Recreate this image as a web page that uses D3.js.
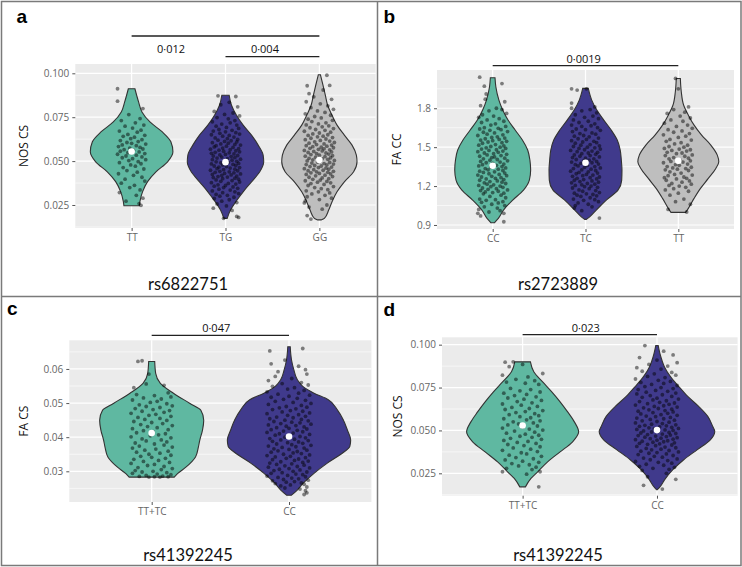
<!DOCTYPE html>
<html>
<head>
<meta charset="utf-8">
<style>
  body { margin: 0; background: #fff; }
  svg text { font-family: 'Open Sans', sans-serif; }
  .tick line { stroke: #555; }
  .tick text { fill: #666; font-size: 10px; }
  .domain { display: none; }
  .letter { font-family: 'Liberation Sans', Arial, sans-serif !important; font-weight: bold; font-size: 19px; }
  .snp { font-family: Lato, sans-serif !important; font-size: 16.5px; }
</style>
</head>
<body>
<svg id="chart"></svg>
<script src="https://d3js.org/d3.v7.min.js"></script>
<script>
// ---------- panel a : rs6822751, NOS CS ----------
const aCats = ["TT", "TG", "GG"];
const aTicks = [0.025, 0.05, 0.075, 0.1];
const aMedians = [0.0555, 0.0494, 0.0506];
const aSig = [{from: 0, to: 2, label: "0·012"}, {from: 1, to: 2, label: "0·004"}];
// violin outlines: [value, half width in category units]
const aShapeTT = [[.0912,.035],[.0837,.074],[.0780,.110],[.0723,.195],[.0666,.327],[.0610,.418],[.0553,.440],[.0496,.383],[.0439,.259],[.0383,.170],[.0326,.117],[.0269,.088],[.0246,.082]];
const aShapeTG = [[.0875,.039],[.0818,.064],[.0761,.117],[.0705,.188],[.0648,.277],[.0591,.348],[.0534,.401],[.0496,.407],[.0439,.365],[.0382,.277],[.0325,.188],[.0269,.110],[.0221,.053],[.0174,.018]];
const aShapeGG = [[.0992,.011],[.0931,.039],[.0875,.064],[.0818,.088],[.0761,.135],[.0705,.188],[.0648,.266],[.0591,.348],[.0534,.394],[.0496,.401],[.0439,.365],[.0382,.266],[.0325,.188],[.0269,.135],[.0221,.099],[.0174,.053],[.0165,.018]];
// jittered points: [jitter offset in category units, value]
const aPtsTT = [[-.15,.0912],[-.15,.0841],[.12,.0799],[-.03,.0765],[.09,.0742],[-.11,.0731],[.04,.0718],[.13,.0705],[-.07,.0699],[.01,.0688],[.10,.0676],[-.13,.0671],[.06,.0665],[-.04,.0652],[.14,.0647],[-.09,.0641],[.03,.0636],[-.01,.0628],[.11,.0622],[-.12,.0617],[.07,.0611],[-.05,.0606],[.00,.0601],[.15,.0597],[-.10,.0592],[.05,.0588],[-.14,.0583],[.09,.0578],[-.02,.0574],[.12,.0569],[-.08,.0565],[.02,.0561],[-.12,.0556],[.08,.0552],[-.04,.0548],[.14,.0543],[-.15,.0539],[.05,.0534],[-.06,.0529],[.11,.0524],[-.10,.0519],[.01,.0514],[.15,.0508],[-.03,.0503],[.07,.0497],[-.13,.0491],[.10,.0485],[-.01,.0478],[.04,.0471],[-.09,.0463],[.13,.0455],[-.05,.0446],[.06,.0437],[-.14,.0428],[.02,.0419],[.11,.0408],[-.07,.0397],[.14,.0386],[-.11,.0374],[.03,.0362],[-.02,.0349],[.09,.0336],[-.13,.0321],[.05,.0305],[.12,.0289],[-.06,.0272],[.08,.0258],[.10,.0248]];
const aPtsTG = [[-.08,.0872],[.11,.0868],[.04,.0835],[-.05,.0821],[.13,.0809],[-.12,.0783],[.08,.0774],[-.01,.0766],[.15,.0757],[-.09,.0748],[.03,.0741],[.10,.0731],[-.14,.0724],[.05,.0718],[-.04,.0711],[.12,.0705],[-.10,.0699],[.01,.0692],[.14,.0686],[-.07,.0680],[.07,.0675],[-.13,.0671],[.00,.0667],[.11,.0662],[-.06,.0658],[.15,.0654],[-.15,.0650],[.04,.0646],[-.03,.0642],[.09,.0637],[-.11,.0632],[.02,.0628],[.13,.0623],[-.08,.0619],[.06,.0616],[-.01,.0612],[.12,.0609],[-.14,.0605],[.03,.0602],[-.05,.0598],[.10,.0595],[.16,.0591],[-.10,.0588],[.01,.0585],[-.12,.0581],[.08,.0578],[-.03,.0574],[.14,.0571],[-.16,.0568],[.05,.0565],[-.07,.0562],[.11,.0559],[-.02,.0556],[.15,.0553],[-.11,.0550],[.04,.0547],[-.15,.0544],[.09,.0541],[.00,.0538],[-.06,.0535],[.13,.0532],[-.13,.0529],[.06,.0526],[-.04,.0523],[.10,.0520],[-.09,.0517],[.02,.0514],[.16,.0511],[-.14,.0508],[.07,.0505],[-.01,.0502],[.12,.0499],[-.10,.0496],[.03,.0493],[-.05,.0490],[.14,.0487],[-.15,.0484],[.08,.0481],[-.03,.0478],[.11,.0475],[-.12,.0472],[.01,.0469],[-.07,.0466],[.15,.0463],[.05,.0460],[-.09,.0457],[.10,.0454],[-.02,.0451],[-.16,.0448],[.13,.0445],[-.06,.0442],[.04,.0439],[-.11,.0436],[.09,.0433],[-.01,.0430],[.16,.0427],[-.14,.0424],[.06,.0421],[-.04,.0418],[.12,.0415],[-.08,.0412],[.02,.0409],[-.13,.0406],[.10,.0403],[-.03,.0400],[.14,.0397],[-.10,.0393],[.07,.0389],[-.05,.0385],[.15,.0381],[-.15,.0377],[.03,.0373],[.11,.0369],[-.08,.0365],[.00,.0361],[-.12,.0357],[.08,.0353],[-.02,.0349],[.13,.0345],[-.07,.0340],[.05,.0335],[-.14,.0330],[.10,.0325],[-.03,.0320],[.14,.0315],[-.10,.0310],[.02,.0305],[-.06,.0300],[.09,.0294],[-.12,.0287],[.04,.0280],[-.04,.0272],[.12,.0264],[-.09,.0256],[.01,.0245],[-.13,.0232],[.07,.0219],[.12,.0185],[.14,.0179],[-.02,.0174]];
const aPtsGG = [[.08,.0989],[-.13,.0929],[.11,.0931],[-.11,.0884],[.04,.0905],[-.06,.0866],[.13,.0852],[-.14,.0838],[.01,.0826],[.09,.0815],[-.09,.0804],[.15,.0795],[-.02,.0786],[.06,.0777],[-.15,.0769],[.12,.0761],[-.05,.0754],[.02,.0746],[-.12,.0739],[.14,.0732],[-.08,.0725],[.07,.0718],[-.01,.0712],[-.14,.0706],[.10,.0701],[.03,.0695],[-.10,.0690],[.15,.0685],[-.04,.0680],[.06,.0675],[-.16,.0670],[.12,.0665],[.00,.0660],[-.07,.0655],[.09,.0650],[-.12,.0646],[.04,.0642],[-.02,.0638],[.14,.0634],[-.09,.0630],[.07,.0626],[-.15,.0622],[.01,.0618],[.11,.0614],[-.05,.0610],[.16,.0606],[-.11,.0602],[.05,.0598],[-.03,.0594],[.13,.0591],[-.14,.0588],[.08,.0585],[-.07,.0582],[.02,.0579],[.15,.0576],[-.10,.0573],[.05,.0570],[-.01,.0567],[.11,.0564],[-.16,.0561],[.03,.0558],[-.06,.0555],[.13,.0552],[-.12,.0549],[.07,.0546],[-.03,.0543],[.10,.0540],[-.09,.0537],[.00,.0534],[.14,.0531],[-.15,.0528],[.06,.0525],[-.04,.0522],[.12,.0519],[-.11,.0516],[.03,.0513],[.09,.0510],[-.07,.0507],[.16,.0504],[-.13,.0501],[.01,.0498],[-.02,.0495],[.11,.0492],[-.08,.0489],[.05,.0486],[.15,.0483],[-.14,.0480],[.08,.0478],[-.05,.0475],[.02,.0472],[-.10,.0469],[.13,.0466],[-.01,.0463],[.07,.0460],[-.16,.0457],[.10,.0454],[-.06,.0451],[.04,.0448],[-.12,.0445],[.15,.0442],[-.03,.0439],[.09,.0436],[-.09,.0433],[.00,.0430],[.12,.0427],[-.14,.0424],[.06,.0420],[-.04,.0416],[.14,.0412],[-.11,.0408],[.03,.0404],[.10,.0400],[-.07,.0396],[.01,.0392],[-.15,.0388],[.08,.0384],[-.02,.0380],[.12,.0376],[-.09,.0372],[.05,.0367],[-.12,.0361],[.15,.0355],[-.05,.0349],[.02,.0343],[.09,.0337],[-.14,.0331],[-.01,.0325],[.11,.0319],[-.08,.0313],[.06,.0305],[-.13,.0297],[.13,.0289],[.00,.0281],[-.15,.0273],[-.16,.0262],[.08,.0250],[-.11,.0238],[.03,.0226],[-.13,.0190],[-.09,.0170]];

// ---------- panel b : rs2723889, FA CC ----------
const bCats = ["CC", "TC", "TT"];
const bTicks = [0.9, 1.2, 1.5, 1.8];
const bMedians = [1.357, 1.380, 1.395];
const bSig = [{from: 0, to: 2, label: "0·0019"}];
const bShapeCC = [[2.035,.025],[1.966,.034],[1.863,.067],[1.786,.108],[1.709,.165],[1.632,.242],[1.555,.320],[1.478,.377],[1.400,.401],[1.323,.409],[1.246,.395],[1.169,.332],[1.092,.216],[1.015,.116],[0.951,.061],[0.917,.018]];
const bShapeTC = [[1.953,.030],[1.863,.067],[1.786,.122],[1.709,.197],[1.632,.277],[1.555,.342],[1.478,.374],[1.400,.386],[1.323,.393],[1.246,.390],[1.169,.350],[1.092,.224],[1.015,.116],[0.963,.045],[0.943,.009]];
const bShapeTT = [[2.030,.022],[1.927,.032],[1.825,.057],[1.747,.108],[1.670,.170],[1.593,.251],[1.516,.350],[1.439,.420],[1.387,.436],[1.336,.404],[1.259,.323],[1.182,.239],[1.105,.170],[1.028,.108],[0.997,.079]];
const bPtsCC = [[-.14,2.04],[.10,1.99],[-.09,1.97],[-.07,1.91],[-.08,1.87],[.13,1.85],[-.13,1.82],[.04,1.80],[.10,1.79],[-.04,1.78],[.15,1.76],[-.11,1.75],[.01,1.74],[-.15,1.73],[.07,1.72],[-.06,1.71],[.12,1.70],[-.12,1.69],[.03,1.68],[-.02,1.67],[.14,1.66],[-.09,1.65],[.06,1.645],[-.14,1.64],[.09,1.635],[-.03,1.63],[.16,1.62],[-.10,1.615],[.02,1.61],[-.06,1.60],[.11,1.595],[-.16,1.59],[.05,1.58],[-.01,1.575],[.13,1.57],[-.08,1.565],[.07,1.56],[-.13,1.555],[.00,1.55],[.15,1.545],[-.05,1.54],[.10,1.535],[-.11,1.53],[.03,1.52],[-.15,1.515],[.12,1.51],[-.02,1.505],[.08,1.50],[-.07,1.495],[.14,1.49],[-.12,1.485],[.04,1.48],[-.04,1.475],[.11,1.47],[-.16,1.465],[.06,1.46],[-.09,1.455],[.01,1.45],[.15,1.445],[-.06,1.44],[.09,1.435],[-.14,1.43],[.02,1.425],[-.01,1.42],[.13,1.415],[-.10,1.41],[.05,1.405],[-.03,1.40],[.16,1.395],[-.13,1.39],[.08,1.385],[-.07,1.38],[.00,1.375],[.12,1.37],[-.11,1.365],[.04,1.36],[-.15,1.355],[.10,1.35],[-.02,1.345],[.14,1.34],[-.08,1.335],[.06,1.33],[-.05,1.325],[.11,1.32],[-.14,1.315],[.02,1.31],[-.10,1.305],[.13,1.30],[-.04,1.295],[.07,1.29],[-.16,1.285],[.15,1.28],[-.01,1.275],[-.12,1.27],[.09,1.265],[.03,1.26],[-.07,1.255],[.12,1.25],[-.14,1.245],[.05,1.24],[-.03,1.235],[.10,1.23],[-.09,1.225],[.14,1.22],[-.06,1.215],[.01,1.21],[-.15,1.205],[.08,1.20],[-.02,1.195],[.11,1.19],[-.11,1.185],[.04,1.18],[-.05,1.175],[.16,1.17],[-.13,1.165],[.06,1.16],[-.08,1.155],[.00,1.15],[.12,1.145],[-.10,1.14],[.09,1.13],[-.03,1.12],[.14,1.11],[-.14,1.10],[.03,1.095],[-.07,1.09],[.11,1.08],[-.12,1.075],[.06,1.07],[-.01,1.06],[.13,1.05],[-.09,1.04],[.05,1.03],[-.15,1.02],[.08,1.01],[-.04,1.00],[-.16,0.99],[.12,0.99],[-.13,0.97],[.12,0.925]];
const bPtsTC = [[-.15,1.95],[.01,1.95],[-.09,1.94],[-.15,1.84],[.10,1.81],[-.15,1.80],[.05,1.79],[-.04,1.78],[.12,1.765],[-.11,1.75],[.08,1.74],[-.01,1.73],[.14,1.72],[-.13,1.71],[.03,1.70],[-.07,1.69],[.10,1.68],[-.15,1.67],[.06,1.665],[-.04,1.66],[.13,1.65],[-.10,1.64],[.00,1.635],[.16,1.63],[-.14,1.62],[.07,1.61],[-.06,1.605],[.11,1.60],[-.02,1.59],[-.12,1.585],[.04,1.58],[.14,1.57],[-.08,1.565],[.01,1.56],[-.15,1.55],[.09,1.545],[-.03,1.54],[.12,1.535],[-.11,1.53],[.05,1.52],[-.05,1.515],[.15,1.51],[-.13,1.505],[.02,1.50],[.10,1.495],[-.07,1.49],[.16,1.485],[-.01,1.48],[-.16,1.475],[.07,1.47],[-.09,1.465],[.13,1.46],[.03,1.455],[-.04,1.45],[.11,1.445],[-.12,1.44],[.05,1.435],[-.06,1.43],[.15,1.425],[-.14,1.42],[.00,1.415],[.09,1.41],[-.10,1.405],[.04,1.40],[-.02,1.395],[.12,1.39],[-.15,1.385],[.07,1.38],[-.05,1.375],[.14,1.37],[-.11,1.365],[.02,1.36],[-.08,1.355],[.10,1.35],[-.01,1.345],[.16,1.34],[-.13,1.335],[.06,1.33],[-.04,1.325],[.11,1.32],[-.16,1.315],[.03,1.31],[-.07,1.305],[.13,1.30],[-.10,1.295],[.01,1.29],[.08,1.285],[-.03,1.28],[-.14,1.275],[.15,1.27],[.05,1.265],[-.09,1.26],[.12,1.255],[-.02,1.25],[-.12,1.245],[.07,1.24],[-.06,1.235],[.14,1.23],[-.15,1.225],[.02,1.22],[.10,1.215],[-.04,1.21],[-.11,1.205],[.06,1.20],[-.01,1.195],[.13,1.19],[-.14,1.185],[.04,1.18],[-.07,1.17],[.11,1.165],[-.03,1.16],[.15,1.15],[-.12,1.145],[.01,1.14],[.08,1.135],[-.09,1.13],[.12,1.125],[-.05,1.12],[.05,1.11],[-.13,1.10],[.10,1.095],[-.02,1.09],[.14,1.08],[-.08,1.07],[.03,1.06],[-.11,1.05],[.07,1.04],[-.12,1.03],[-.04,1.01],[.15,0.953]];
const bPtsTT = [[-.03,2.03],[.00,1.95],[.11,1.81],[-.05,1.79],[.07,1.77],[-.12,1.76],[.02,1.74],[.13,1.725],[-.08,1.71],[.05,1.70],[-.15,1.685],[.10,1.67],[-.02,1.66],[.15,1.645],[-.11,1.635],[.04,1.625],[-.05,1.615],[.12,1.605],[-.16,1.595],[.08,1.585],[.00,1.575],[-.09,1.56],[.14,1.555],[-.13,1.545],[.03,1.535],[-.04,1.525],[.10,1.515],[-.10,1.505],[.06,1.50],[-.15,1.49],[.01,1.485],[.13,1.48],[-.07,1.475],[.09,1.47],[-.12,1.46],[.04,1.455],[-.02,1.45],[.15,1.44],[-.14,1.435],[.07,1.43],[-.05,1.42],[.11,1.415],[-.10,1.41],[.02,1.40],[.13,1.395],[-.08,1.39],[.05,1.385],[-.16,1.38],[.10,1.37],[-.03,1.365],[.01,1.36],[-.12,1.35],[.14,1.345],[-.06,1.34],[.08,1.335],[-.01,1.33],[-.14,1.325],[.11,1.32],[-.09,1.31],[.03,1.30],[-.04,1.29],[.15,1.285],[-.11,1.28],[.06,1.27],[-.15,1.265],[.09,1.26],[-.02,1.255],[-.13,1.245],[.12,1.24],[.04,1.23],[-.07,1.22],[.14,1.215],[-.10,1.205],[.01,1.20],[.08,1.19],[-.05,1.18],[-.14,1.17],[.11,1.16],[.00,1.145],[-.09,1.13],[.06,1.10],[-.03,1.08],[.13,1.06],[-.11,1.02],[.09,1.00]];

// ---------- panel c : rs41392245, FA CS ----------
const cCats = ["TT+TC", "CC"];
const cTicks = [0.03, 0.04, 0.05, 0.06];
const cMedians = [0.0412, 0.0402];
const cSig = [{from: 0, to: 1, label: "0·047"}];
const cShapeTTTC = [[.0622,.022],[.0587,.029],[.0558,.063],[.0529,.158],[.0499,.279],[.0479,.358],[.0450,.379],[.0421,.370],[.0391,.350],[.0371,.340],[.0342,.319],[.0312,.249],[.0293,.188],[.0283,.164]];
const cShapeCC = [[.0665,.009],[.0627,.018],[.0598,.035],[.0569,.060],[.0549,.100],[.0529,.182],[.0510,.286],[.0480,.352],[.0451,.395],[.0421,.425],[.0392,.449],[.0373,.443],[.0353,.388],[.0324,.279],[.0294,.182],[.0265,.103],[.0245,.060],[.0230,.018]];
const cPtsTTTC = [[-.10,.0622],[-.07,.0624],[-.02,.0585],[-.13,.0545],[.09,.0552],[-.04,.0556],[.12,.0530],[-.11,.0525],[.02,.0522],[.14,.0518],[-.06,.0515],[.07,.0512],[-.14,.0509],[.04,.0505],[-.01,.0502],[.11,.0498],[-.09,.0495],[.15,.0492],[-.04,.0490],[.06,.0487],[-.12,.0484],[.01,.0481],[.13,.0478],[-.07,.0476],[.09,.0473],[-.15,.0470],[.03,.0467],[-.02,.0464],[.14,.0461],[-.10,.0458],[.06,.0455],[-.05,.0452],[.11,.0449],[-.13,.0446],[.00,.0443],[.08,.0440],[-.08,.0437],[.15,.0434],[-.03,.0431],[.04,.0428],[-.14,.0425],[.12,.0422],[-.06,.0419],[.01,.0416],[-.11,.0413],[.10,.0410],[.05,.0407],[-.01,.0404],[-.15,.0401],[.14,.0398],[-.07,.0395],[.07,.0392],[-.04,.0389],[.11,.0386],[-.12,.0383],[.02,.0380],[.09,.0377],[-.09,.0374],[.15,.0371],[-.14,.0368],[.03,.0365],[-.05,.0362],[.12,.0359],[-.11,.0356],[.06,.0353],[-.02,.0350],[.14,.0347],[-.08,.0344],[.00,.0341],[.10,.0338],[-.13,.0335],[.05,.0332],[-.06,.0329],[.13,.0326],[-.15,.0323],[.02,.0320],[-.03,.0317],[.09,.0314],[-.10,.0311],[.15,.0308],[.07,.0305],[-.12,.0302],[.01,.0300],[-.07,.0298],[.11,.0296],[-.14,.0294],[.04,.0292],[.14,.0290],[-.04,.0288],[.08,.0286],[-.09,.0285],[.02,.0284],[.12,.0284],[-.02,.0283],[.06,.0283]];
const cPtsCC = [[-.14,.0653],[.10,.0660],[-.03,.0626],[-.13,.0615],[.07,.0608],[.12,.0598],[-.08,.0592],[.13,.0585],[-.10,.0578],[.02,.0572],[-.15,.0566],[.09,.0560],[-.05,.0557],[.14,.0553],[-.12,.0549],[.04,.0545],[-.01,.0541],[.11,.0537],[-.16,.0533],[.07,.0529],[-.08,.0526],[.15,.0523],[.00,.0520],[-.13,.0517],[.06,.0514],[-.04,.0511],[.12,.0508],[-.10,.0505],[.03,.0502],[.16,.0499],[-.15,.0496],[.09,.0493],[-.02,.0490],[.13,.0488],[-.07,.0486],[.05,.0483],[-.12,.0481],[.01,.0478],[.10,.0476],[-.05,.0474],[.15,.0471],[-.16,.0469],[.07,.0466],[-.01,.0464],[.12,.0461],[-.09,.0459],[.03,.0457],[-.14,.0454],[.09,.0452],[-.03,.0450],[.14,.0448],[-.11,.0446],[.02,.0444],[.08,.0442],[-.06,.0440],[.16,.0438],[-.15,.0436],[.05,.0434],[-.02,.0432],[.11,.0430],[-.09,.0428],[.00,.0426],[.13,.0424],[-.13,.0422],[.06,.0420],[-.04,.0418],[.10,.0416],[-.16,.0414],[.03,.0412],[-.07,.0410],[.15,.0408],[-.10,.0406],[.01,.0404],[.08,.0402],[-.03,.0400],[.12,.0398],[-.14,.0396],[.04,.0394],[-.06,.0392],[.14,.0390],[-.12,.0388],[.07,.0386],[-.01,.0384],[.10,.0382],[-.09,.0380],[.02,.0378],[.16,.0376],[-.15,.0374],[.05,.0372],[-.05,.0370],[.11,.0368],[-.11,.0366],[.00,.0364],[.13,.0362],[-.08,.0360],[.06,.0358],[-.13,.0356],[.03,.0354],[.09,.0352],[-.04,.0350],[.15,.0348],[-.16,.0346],[.01,.0344],[-.10,.0342],[.12,.0340],[-.02,.0338],[.07,.0336],[-.12,.0334],[.04,.0332],[.14,.0330],[-.06,.0328],[.10,.0326],[-.14,.0324],[.02,.0322],[-.09,.0320],[.11,.0318],[-.03,.0316],[.06,.0314],[-.15,.0312],[.15,.0310],[.00,.0308],[-.07,.0306],[.08,.0304],[-.11,.0302],[.03,.0300],[.13,.0298],[-.05,.0296],[-.13,.0294],[.05,.0292],[.10,.0290],[-.01,.0288],[-.16,.0286],[.12,.0284],[-.08,.0282],[.02,.0280],[.07,.0278],[-.04,.0276],[.14,.0274],[-.12,.0272],[.04,.0270],[-.02,.0268],[.09,.0266],[-.10,.0264],[.11,.0262],[.01,.0260],[-.06,.0257],[.13,.0254],[-.03,.0251],[.08,.0248],[.12,.0243],[.13,.0237],[.11,.0232]];

// ---------- panel d : rs41392245, NOS CS ----------
const dCats = ["TT+TC", "CC"];
const dTicks = [0.025, 0.05, 0.075, 0.1];
const dMedians = [0.0529, 0.0502];
const dSig = [{from: 0, to: 1, label: "0·023"}];
const dShapeTTTC = [[.0900,.058],[.0842,.083],[.0783,.149],[.0725,.217],[.0667,.279],[.0608,.335],[.0550,.385],[.0492,.417],[.0434,.372],[.0375,.279],[.0317,.186],[.0259,.112],[.0220,.062],[.0171,.021]];
const dShapeCC = [[.0995,.009],[.0931,.028],[.0873,.054],[.0815,.099],[.0756,.162],[.0698,.229],[.0640,.310],[.0582,.378],[.0523,.415],[.0494,.430],[.0445,.397],[.0387,.298],[.0329,.199],[.0271,.118],[.0212,.056],[.0174,.025],[.0154,.002]];
const dPtsTTTC = [[-.13,.0898],[-.07,.0900],[-.10,.0872],[.00,.0885],[-.15,.0822],[.15,.0832],[.04,.0812],[-.05,.0798],[.09,.0790],[-.12,.0782],[.02,.0775],[.12,.0768],[-.09,.0745],[.06,.0738],[-.02,.0731],[.13,.0724],[-.14,.0717],[.03,.0710],[-.06,.0703],[.10,.0696],[-.11,.0689],[.01,.0682],[.14,.0675],[-.04,.0668],[.07,.0661],[-.15,.0654],[-.01,.0647],[.11,.0640],[-.08,.0634],[.05,.0628],[-.13,.0622],[.15,.0616],[.02,.0610],[-.05,.0604],[.09,.0598],[-.10,.0592],[.12,.0586],[-.02,.0580],[.06,.0574],[-.14,.0568],[.03,.0562],[.13,.0556],[-.07,.0550],[.08,.0544],[-.03,.0538],[-.11,.0532],[.11,.0526],[.00,.0520],[-.15,.0514],[.05,.0508],[.15,.0502],[-.06,.0496],[.09,.0490],[-.12,.0484],[.02,.0478],[.12,.0472],[-.02,.0466],[.07,.0460],[-.09,.0454],[.14,.0448],[-.14,.0442],[.04,.0436],[-.04,.0430],[.10,.0424],[-.11,.0418],[.01,.0412],[.13,.0405],[-.07,.0398],[.06,.0391],[-.15,.0384],[.11,.0377],[-.01,.0370],[.03,.0363],[-.10,.0356],[.14,.0349],[-.05,.0342],[.08,.0335],[-.13,.0328],[.00,.0321],[.12,.0314],[-.08,.0307],[.05,.0300],[-.03,.0293],[.10,.0286],[-.12,.0279],[.07,.0272],[-.15,.0259],[.13,.0259],[.03,.0245],[.12,.0171]];
const dPtsCC = [[-.09,.0995],[.05,.0962],[.12,.0940],[-.13,.0925],[.00,.0910],[.15,.0895],[-.06,.0885],[.08,.0875],[-.15,.0866],[.03,.0858],[-.11,.0845],[.11,.0838],[-.02,.0830],[.14,.0822],[-.07,.0815],[.06,.0808],[-.16,.0800],[.01,.0792],[.10,.0786],[-.12,.0780],[.05,.0774],[-.04,.0768],[.15,.0762],[-.09,.0756],[.03,.0750],[.12,.0744],[-.14,.0738],[-.01,.0733],[.08,.0728],[-.08,.0723],[.14,.0718],[-.15,.0713],[.04,.0708],[-.05,.0703],[.11,.0698],[-.11,.0693],[.00,.0688],[.16,.0683],[-.03,.0678],[.07,.0673],[-.13,.0668],[.02,.0664],[.13,.0660],[-.07,.0656],[.09,.0652],[-.16,.0648],[.05,.0644],[-.02,.0640],[.15,.0636],[-.10,.0632],[.01,.0628],[.11,.0624],[-.06,.0620],[.06,.0616],[-.14,.0612],[.12,.0608],[-.03,.0604],[.08,.0600],[-.12,.0596],[.03,.0592],[.15,.0588],[-.08,.0584],[-.01,.0580],[.10,.0576],[-.15,.0572],[.05,.0568],[-.05,.0564],[.13,.0560],[-.11,.0556],[.00,.0552],[.09,.0548],[-.16,.0544],[.04,.0540],[-.04,.0536],[.14,.0533],[-.09,.0530],[.07,.0527],[-.13,.0524],[.02,.0521],[.11,.0518],[-.06,.0515],[.16,.0512],[-.02,.0509],[-.15,.0506],[.06,.0503],[.12,.0500],[-.10,.0497],[.01,.0494],[-.04,.0491],[.09,.0488],[-.12,.0485],[.14,.0482],[.04,.0479],[-.07,.0476],[.10,.0473],[-.14,.0470],[-.01,.0467],[.07,.0464],[-.09,.0461],[.15,.0458],[.03,.0455],[-.05,.0452],[.12,.0449],[-.16,.0446],[.00,.0443],[.08,.0440],[-.11,.0437],[.05,.0434],[-.03,.0431],[.13,.0428],[-.13,.0425],[.02,.0422],[-.07,.0419],[.11,.0415],[-.01,.0411],[-.15,.0407],[.06,.0403],[.14,.0399],[-.08,.0395],[.03,.0391],[-.04,.0387],[.09,.0383],[-.12,.0379],[.16,.0375],[.00,.0371],[-.06,.0367],[.07,.0363],[-.14,.0359],[.12,.0354],[-.02,.0349],[.04,.0344],[-.10,.0339],[.15,.0334],[-.05,.0329],[.08,.0324],[-.16,.0319],[.01,.0314],[.11,.0309],[-.08,.0303],[.05,.0297],[-.13,.0291],[.13,.0285],[-.03,.0279],[.09,.0273],[-.11,.0267],[.07,.0250],[-.07,.0230],[.14,.0215],[-.10,.0180],[.04,.0158]];

const fills = ["#5fb8a1", "#403a8c", "#bebebe"];

// layout of each panel (pixel boxes)
const panels = [
  {cats: aCats, ticks: aTicks, fmt: ".3f", title: "NOS CS", snp: "rs6822751", letter: "a",
   shapes: [aShapeTT, aShapeTG, aShapeGG], pts: [aPtsTT, aPtsTG, aPtsGG], med: aMedians, sig: aSig,
   box: {x0: 75.3, x1: 375.7, y0: 64, y1: 228}, dom: [0.0119, 0.1053],
   letterPos: [16.5, 23], titleX: 25, snpPos: [188, 290], sigY: [36, 56.7], sigLabelY: 53, sigLabelX: [0.42, 1.42]},
  {cats: bCats, ticks: bTicks, fmt: ".1f", title: "FA CC", snp: "rs2723889", letter: "b",
   shapes: [bShapeCC, bShapeTC, bShapeTT], pts: [bPtsCC, bPtsTC, bPtsTT], med: bMedians, sig: bSig,
   box: {x0: 437, x1: 734, y0: 70, y1: 229}, dom: [0.869, 2.095],
   letterPos: [383.5, 23], titleX: 398, snpPos: [558, 290], sigY: [65.7], sigLabelY: 63, sigLabelX: [0.98]},
  {cats: cCats, ticks: cTicks, fmt: ".2f", title: "FA CS", snp: "rs41392245", letter: "c",
   shapes: [cShapeTTTC, cShapeCC], pts: [cPtsTTTC, cPtsCC], med: cMedians, sig: cSig,
   box: {x0: 69.3, x1: 371.4, y0: 340.3, y1: 502}, dom: [0.021, 0.0684],
   letterPos: [7, 315], titleX: 25, snpPos: [188, 561], sigY: [335.3], sigLabelY: 332, sigLabelX: [0.47]},
  {cats: dCats, ticks: dTicks, fmt: ".3f", title: "NOS CS", snp: "rs41392245", letter: "d",
   shapes: [dShapeTTTC, dShapeCC], pts: [dPtsTTTC, dPtsCC], med: dMedians, sig: dSig,
   box: {x0: 442, x1: 737.6, y0: 337.3, y1: 495.7}, dom: [0.01195, 0.1043],
   letterPos: [383.5, 316], titleX: 399, snpPos: [558, 561], sigY: [334.7], sigLabelY: 332, sigLabelX: [0.47]}
];

const svg = d3.select("#chart").attr("width", 742).attr("height", 567);

// frame and dividers
svg.append("rect").attr("x", 1.5).attr("y", 1.5).attr("width", 739.5).attr("height", 564)
  .attr("fill", "none").attr("stroke", "#7a7a7a").attr("stroke-width", 1.5);
svg.append("line").attr("x1", 377.5).attr("x2", 377.5).attr("y1", 1.5).attr("y2", 565.5)
  .attr("stroke", "#7a7a7a").attr("stroke-width", 1.5);
svg.append("line").attr("x1", 1.5).attr("x2", 741).attr("y1", 296.5).attr("y2", 296.5)
  .attr("stroke", "#7a7a7a").attr("stroke-width", 1.5);

panels.forEach(p => {
  const g = svg.append("g");
  const n = p.cats.length;
  const x = d3.scaleLinear().domain([-0.6, n - 0.4]).range([p.box.x0, p.box.x1]);
  const y = d3.scaleLinear().domain(p.dom).range([p.box.y1, p.box.y0]);

  g.append("rect").attr("x", p.box.x0).attr("y", p.box.y0)
    .attr("width", p.box.x1 - p.box.x0).attr("height", p.box.y1 - p.box.y0).attr("fill", "#ebebeb");

  // minor grid halfway between the ticks
  const step = p.ticks[1] - p.ticks[0];
  const minor = [];
  for (let k = -1; k < p.ticks.length + 1; k++) {
    const t = p.ticks[0] + (k + 0.5) * step;
    if (t > p.dom[0] && t < p.dom[1]) minor.push(t);
  }
  g.selectAll(".minor").data(minor).join("line")
    .attr("x1", p.box.x0).attr("x2", p.box.x1).attr("y1", d => y(d)).attr("y2", d => y(d))
    .attr("stroke", "#fff").attr("stroke-width", 0.6);
  g.selectAll(".major").data(p.ticks).join("line")
    .attr("x1", p.box.x0).attr("x2", p.box.x1).attr("y1", d => y(d)).attr("y2", d => y(d))
    .attr("stroke", "#fff").attr("stroke-width", 1.2);
  g.selectAll(".vgrid").data(d3.range(n)).join("line")
    .attr("x1", d => x(d)).attr("x2", d => x(d)).attr("y1", p.box.y0).attr("y2", p.box.y1)
    .attr("stroke", "#fff").attr("stroke-width", 1.2);

  // violins
  p.shapes.forEach((shape, i) => {
    const area = d3.area().curve(d3.curveMonotoneY)
      .y(d => y(d[0])).x0(d => x(i - d[1])).x1(d => x(i + d[1]));
    g.append("path").attr("d", area(shape))
      .attr("fill", fills[i]).attr("stroke", "#333").attr("stroke-width", 1.1);
  });

  // jittered points
  p.pts.forEach((pts, i) => {
    g.append("g").selectAll("circle").data(pts).join("circle")
      .attr("cx", d => x(i + d[0])).attr("cy", d => y(d[1])).attr("r", 1.9)
      .attr("fill", "#000").attr("fill-opacity", 0.48);
  });

  // medians
  g.selectAll(".med").data(p.med).join("circle")
    .attr("cx", (d, i) => x(i)).attr("cy", d => y(d)).attr("r", 3.3).attr("fill", "#fff");

  // axes
  g.append("g").attr("transform", `translate(${p.box.x0},0)`)
    .call(d3.axisLeft(y).tickValues(p.ticks).tickFormat(d3.format(p.fmt)).tickSize(3).tickPadding(3));
  g.append("g").attr("transform", `translate(0,${p.box.y1})`)
    .call(d3.axisBottom(x).tickValues(d3.range(n)).tickFormat(i => p.cats[i]).tickSize(3).tickPadding(3));

  g.append("text")
    .attr("transform", `translate(${p.titleX},${(p.box.y0 + p.box.y1) / 2}) rotate(-90)`)
    .attr("text-anchor", "middle").attr("dominant-baseline", "middle")
    .attr("font-size", 12).attr("fill", "#111").text(p.title);

  // significance bars
  p.sig.forEach((s, k) => {
    g.append("line").attr("x1", x(s.from)).attr("x2", x(s.to))
      .attr("y1", p.sigY[k]).attr("y2", p.sigY[k]).attr("stroke", "#222").attr("stroke-width", 1.3);
    g.append("text").attr("x", x(p.sigLabelX[k])).attr("y", p.sigLabelY)
      .attr("text-anchor", "middle").attr("font-size", 11).attr("fill", "#111").text(s.label);
  });

  g.append("text").attr("class", "letter").attr("x", p.letterPos[0]).attr("y", p.letterPos[1]).text(p.letter);
  g.append("text").attr("class", "snp").attr("x", p.snpPos[0]).attr("y", p.snpPos[1])
    .attr("text-anchor", "middle").attr("fill", "#111").text(p.snp);
});
</script>
</body>
</html>
